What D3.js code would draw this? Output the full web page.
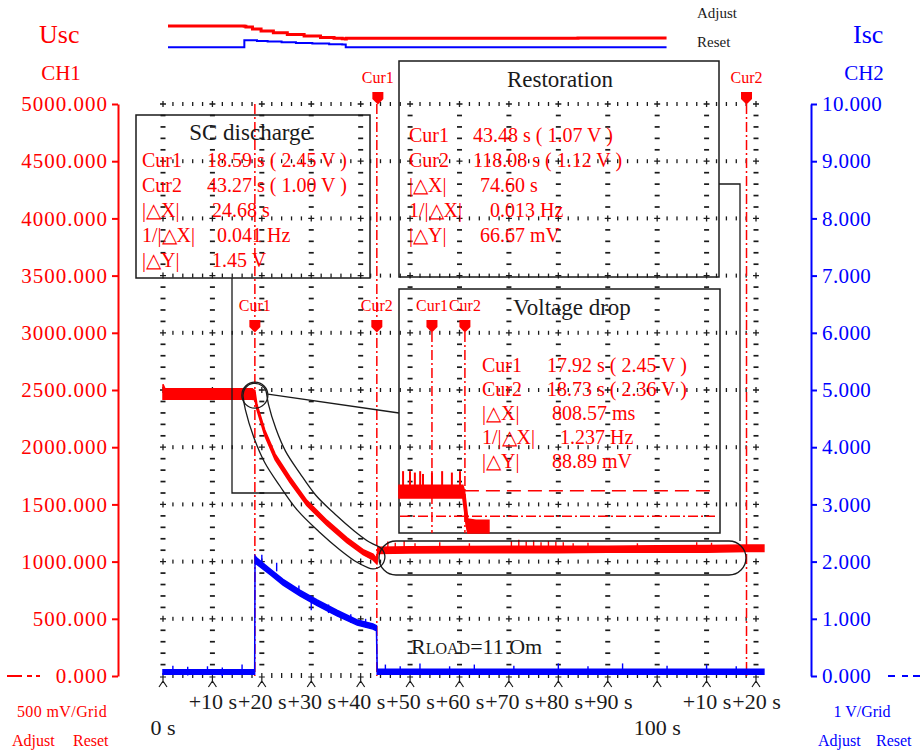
<!DOCTYPE html>
<html>
<head>
<meta charset="utf-8">
<script src="https://cdn.jsdelivr.net/npm/d3@7"></script>
<style>
  body { margin: 0; background: #fff; }
  svg { display: block; }
  text { font-family: "Liberation Serif", "Times New Roman", serif; }
</style>
</head>
<body>
<svg id="scope" width="922" height="750"></svg>
<script>
// ---- CH1: supercapacitor voltage Usc (mV), lower / upper edge of the noisy trace
const uscTime = [0, 0.4, 2, 6, 10, 14, 18.0, 18.59, 19.0, 20.6, 22.7, 25.7, 29.1, 33.2, 37.2, 40.5, 42.5, 43.27, 43.48, 50, 60, 70, 80, 90, 100, 110, 118.08, 121.6];
const uscLow  = [2420, 2420, 2420, 2420, 2420, 2420, 2420, 2415, 2330, 2100, 1890, 1690, 1490, 1315, 1165, 1060, 1015, 980, 1070, 1075, 1078, 1078, 1078, 1082, 1082, 1082, 1088, 1088];
const uscHigh = [2550, 2510, 2510, 2510, 2510, 2510, 2510, 2495, 2375, 2150, 1940, 1740, 1535, 1360, 1210, 1105, 1065, 1025, 1125, 1130, 1132, 1135, 1135, 1135, 1138, 1140, 1145, 1145];
const uscSpikeTime  = [45.5, 47, 48.8, 51, 56, 62, 70.5, 72, 73.5, 75, 76.5, 78, 79.5, 81, 83, 86, 96, 108, 111];
const uscSpikeValue = [1175, 1165, 1180, 1160, 1170, 1160, 1180, 1190, 1175, 1185, 1170, 1180, 1175, 1170, 1160, 1165, 1160, 1170, 1165];

// ---- CH2: supercapacitor current Isc, lower / upper edge of the trace
const iscTime = [0, 18.55, 18.62, 19.0, 21.7, 24.3, 27.7, 31.2, 35.2, 39.3, 42.5, 43.2, 43.35, 50, 70, 90, 110, 121.6];
const iscLow  = [0.03, 0.03, 1.97, 1.95, 1.77, 1.59, 1.40, 1.23, 1.05, 0.89, 0.82, 0.79, 0.03, 0.03, 0.03, 0.03, 0.03, 0.03];
const iscHigh = [0.11, 0.11, 2.10, 2.06, 1.87, 1.69, 1.50, 1.33, 1.15, 0.98, 0.91, 0.88, 0.12, 0.12, 0.12, 0.12, 0.12, 0.12];
const iscSpikeTime  = [2, 5, 9, 12, 16, 20, 23, 27.5, 30, 33.5, 38, 41, 45, 48, 52, 58, 63, 71, 80, 86, 93, 102, 110, 116];
const iscSpikeValue = [0.18, 0.16, 0.17, 0.15, 0.2, 2.12, 1.98, 1.58, 1.30, 1.25, 1.08, 1.0, 0.2, 0.17, 0.22, 0.17, 0.2, 0.18, 0.22, 0.17, 0.22, 0.18, 0.2, 0.17];

// ---- Zoomed voltage-drop window (s, V)
const dropTime = [17.11, 17.3, 17.5, 17.7, 17.92, 18.1, 18.3, 18.5, 18.68, 18.72, 18.76, 18.80, 19.0, 19.2, 19.32];
const dropLow  = [2.425, 2.425, 2.425, 2.425, 2.425, 2.425, 2.425, 2.425, 2.425, 2.38, 2.33, 2.30, 2.30, 2.30, 2.30];
const dropHigh = [2.47, 2.47, 2.47, 2.47, 2.47, 2.47, 2.47, 2.47, 2.47, 2.45, 2.40, 2.35, 2.345, 2.345, 2.345];
const dropSpikeTime = [17.21, 17.38, 17.50, 17.63, 17.70, 17.92, 18.17, 18.41, 18.61];
const dropSpikeValue = [2.52, 2.52, 2.515, 2.52, 2.51, 2.515, 2.52, 2.515, 2.52];

// ---- Axis ticks
const timeMajor = [0, 10, 20, 30, 40, 50, 60, 70, 80, 90, 100, 110, 120];
const ch1Major = [0, 500, 1000, 1500, 2000, 2500, 3000, 3500, 4000, 4500, 5000];
const ch2Major = [0, 1, 2, 3, 4, 5, 6, 7, 8, 9, 10];

// ---- Cursor readouts
const scCursors = [18.59, 43.27];
const scRows = [["Cur1", "18.59 s ( 2.45 V )"], ["Cur2", "43.27 s ( 1.00 V )"], ["|△X|", "24.68 s"], ["1/|△X|", "0.041 Hz"], ["|△Y|", "1.45 V"]];
const restCursors = [43.48, 118.08];
const restRows = [["Cur1", "43.48 s ( 1.07 V )"], ["Cur2", "118.08 s ( 1.12 V )"], ["|△X|", "74.60 s"], ["1/|△X|", "0.013 Hz"], ["|△Y|", "66.67 mV"]];
const dropCursors = [17.92, 18.73];
const dropLevels = [2.45, 2.36];
const dropRows = [["Cur1", "17.92 s ( 2.45 V )"], ["Cur2", "18.73 s ( 2.36 V )"], ["|△X|", "808.57 ms"], ["1/|△X|", "1.237 Hz"], ["|△Y|", "88.89 mV"]];

const RED = "#ff0000", BLUE = "#0000ff", INK = "#1a1a1a";
const svg = d3.select("#scope");

const x  = d3.scaleLinear().domain([0, 120]).range([163, 756]);
const yU = d3.scaleLinear().domain([0, 5000]).range([676, 104]);
const yI = d3.scaleLinear().domain([0, 10]).range([676, 104]);

// ---------- graticule ----------
const grid = svg.append("g");
const minorT = d3.range(0, 120.001, 2).filter(t => t % 10 !== 0);
const minorU = d3.range(0, 5000, 100).filter(v => v % 500 !== 0);
ch1Major.filter(v => v > 0).forEach(v => {
  const gy = yU(v);
  grid.selectAll(null).data(minorT).join("rect")
    .attr("x", t => x(t) - 0.6).attr("y", gy - 2).attr("width", 1.3).attr("height", 4).attr("fill", INK);
  grid.selectAll(null).data(timeMajor).join("path")
    .attr("d", t => `M${x(t) - 3},${gy}H${x(t) + 3}M${x(t)},${gy - 3}V${gy + 3}`)
    .attr("stroke", INK).attr("stroke-width", 1.3);
});
timeMajor.forEach(t => {
  grid.selectAll(null).data(minorU).join("rect")
    .attr("x", x(t) - 2.5).attr("y", v => yU(v) - 0.8).attr("width", 5).attr("height", 1.7).attr("fill", INK);
});

// bottom time axis: arrow-like major marks and small minor ticks
const tAxis = svg.append("g");
tAxis.selectAll(null).data(minorT).join("rect")
  .attr("x", t => x(t) - 0.6).attr("y", 673).attr("width", 1.3).attr("height", 5).attr("fill", INK);
tAxis.selectAll(null).data(timeMajor).join("path")
  .attr("d", t => { const cx = x(t); return `M${cx},673V683M${cx - 3},677H${cx + 3}M${cx},681L${cx - 4},687M${cx},681L${cx + 4},687`; })
  .attr("stroke", INK).attr("stroke-width", 1.2).attr("fill", "none");

const bottomAxis = d3.axisBottom(x).tickValues(timeMajor).tickSize(0).tickPadding(17)
  .tickFormat(t => (t === 0 || t === 100) ? "" : `+${t % 100} s`);
const bAx = svg.append("g").attr("transform", "translate(0,676)").call(bottomAxis);
bAx.select(".domain").remove();
bAx.selectAll("text").attr("font-size", 22).attr("fill", INK).style("font-family", "Liberation Serif");
svg.selectAll(null).data([0, 100]).join("text")
  .attr("x", t => x(t)).attr("y", 735).attr("text-anchor", "middle").attr("font-size", 22).attr("fill", INK)
  .text(t => `${t} s`);

// ---------- left axis CH1 ----------
const leftAx = svg.append("g").attr("transform", "translate(118,0)");
leftAx.call(d3.axisLeft(yU).tickValues(d3.range(0, 5001, 100)).tickSize(3).tickSizeOuter(0).tickFormat(""));
leftAx.call(d3.axisLeft(yU).tickValues(ch1Major).tickSize(6).tickSizeOuter(0).tickPadding(4).tickFormat(d3.format(".3f")));
leftAx.selectAll("path, line").attr("stroke", RED).attr("stroke-width", 2);
leftAx.selectAll("text").attr("fill", RED).attr("font-size", 21).attr("letter-spacing", 1.0).style("font-family", "Liberation Serif");

// ---------- right axis CH2 ----------
const rightAx = svg.append("g").attr("transform", "translate(811,0)");
rightAx.call(d3.axisRight(yI).tickValues(d3.range(0, 10.001, 0.2)).tickSize(3).tickSizeOuter(0).tickFormat(""));
rightAx.call(d3.axisRight(yI).tickValues(ch2Major).tickSize(6).tickSizeOuter(0).tickPadding(5).tickFormat(d3.format(".3f")));
rightAx.selectAll("path, line").attr("stroke", BLUE).attr("stroke-width", 2);
rightAx.selectAll("text").attr("fill", BLUE).attr("font-size", 21).attr("letter-spacing", 0.4).style("font-family", "Liberation Serif");

// channel legends at the zero line
svg.append("path").attr("d", "M7,676H22M27,676H32M36,676H40").attr("stroke", RED).attr("stroke-width", 2);
svg.append("path").attr("d", "M888,676H895M902,676H908M913,676H920").attr("stroke", BLUE).attr("stroke-width", 2);

// headers and scale captions
function label(txt, px, py, size, color, anchor = "start") {
  return svg.append("text").attr("x", px).attr("y", py).attr("font-size", size).attr("fill", color)
    .attr("text-anchor", anchor).text(txt);
}
label("Usc", 39, 43, 26, RED);
label("CH1", 61, 80, 21, RED, "middle");
label("Isc", 853, 43, 26, BLUE);
label("CH2", 864, 80, 21, BLUE, "middle");
label("500 mV/Grid", 62, 717, 16, RED, "middle").attr("letter-spacing", 0.4);
label("Adjust", 12, 746, 16, RED);
label("Reset", 73, 746, 16, RED);
label("1 V/Grid", 862, 717, 16, BLUE, "middle");
label("Adjust", 818, 746, 16, BLUE);
label("Reset", 876, 746, 16, BLUE);
label("Adjust", 697, 18, 15, INK);
label("Reset", 697, 47, 15, INK);

// ---------- overview strip ----------
const xMini = d3.scaleLinear().domain([0, 120]).range([168, 660]);
const yMiniU = d3.scaleLinear().domain([0, 5000]).range([48, 3.5]);
const yMiniI = d3.scaleLinear().domain([0, 10]).range([47.5, 11.5]);
const uscMid = uscTime.map((t, i) => [t, (uscLow[i] + uscHigh[i]) / 2]);
const iscMid = iscTime.map((t, i) => [t, (iscLow[i] + iscHigh[i]) / 2]);
svg.append("path").attr("d", d3.line().x(d => xMini(d[0])).y(d => yMiniU(d[1])).curve(d3.curveStepAfter)(uscMid))
  .attr("fill", "none").attr("stroke", RED).attr("stroke-width", 3);
svg.append("path").attr("d", d3.line().x(d => xMini(d[0])).y(d => yMiniI(d[1])).curve(d3.curveStepAfter)(iscMid))
  .attr("fill", "none").attr("stroke", BLUE).attr("stroke-width", 2);

// ---------- cursors ----------
const cursorDash = "10,3,2,3";
function cursorLine(px, y0, y1) {
  svg.append("line").attr("x1", px).attr("x2", px).attr("y1", y0).attr("y2", y1)
    .attr("stroke", RED).attr("stroke-width", 1.5).attr("stroke-dasharray", cursorDash);
}
function cursorFlag(px, top, name) {
  svg.append("path").attr("d", `M${px - 5.5},${top}h11v7l-5.5,5.5l-5.5,-5.5z`).attr("fill", RED);
  svg.append("text").attr("x", px).attr("y", top - 9).attr("text-anchor", "middle")
    .attr("font-size", 16).attr("fill", RED).text(name);
}
cursorLine(x(scCursors[0]), 104, 676);
cursorLine(x(scCursors[1]), 104, 676);
cursorLine(x(restCursors[1]), 104, 676);
cursorFlag(x(restCursors[0]), 92, "Cur1");
cursorFlag(x(restCursors[1]), 92, "Cur2");
cursorFlag(x(scCursors[0]), 320, "Cur1");
cursorFlag(x(scCursors[1]), 320, "Cur2");

// ---------- traces ----------
const uscRows = uscTime.map((t, i) => ({ t, lo: uscLow[i], hi: uscHigh[i] }));
const iscRows = iscTime.map((t, i) => ({ t, lo: iscLow[i], hi: iscHigh[i] }));
svg.append("path")
  .attr("d", d3.area().x(d => x(d.t)).y0(d => yI(d.lo)).y1(d => yI(d.hi))(iscRows))
  .attr("fill", BLUE).attr("stroke", BLUE).attr("stroke-width", 1.5);
svg.selectAll(null).data(iscSpikeTime).join("line")
  .attr("x1", t => x(t)).attr("x2", t => x(t))
  .attr("y1", (t, i) => yI(iscSpikeValue[i])).attr("y2", (t, i) => yI(iscSpikeValue[i] - 0.15))
  .attr("stroke", BLUE).attr("stroke-width", 1.4);

svg.append("path")
  .attr("d", d3.area().x(d => x(d.t)).y0(d => yU(d.lo)).y1(d => yU(d.hi))(uscRows))
  .attr("fill", RED).attr("stroke", RED).attr("stroke-width", 1.5);
svg.selectAll(null).data(uscSpikeTime).join("line")
  .attr("x1", t => x(t)).attr("x2", t => x(t))
  .attr("y1", (t, i) => yU(uscSpikeValue[i])).attr("y2", (t, i) => yU(uscSpikeValue[i] - 80))
  .attr("stroke", RED).attr("stroke-width", 1.4);

// ---------- highlight outlines around the discharge and restoration parts ----------
const dischargePath = uscRows.filter(d => d.t >= 18.59 && d.t <= 42.5)
  .map(d => [x(d.t), yU((d.lo + d.hi) / 2)]);
const capsuleD = d3.line().curve(d3.curveCatmullRom)(dischargePath);
const defs = svg.append("defs");
const mask = defs.append("mask").attr("id", "capsuleMask").attr("maskUnits", "userSpaceOnUse")
  .attr("x", 0).attr("y", 0).attr("width", 922).attr("height", 750);
mask.append("path").attr("d", capsuleD).attr("fill", "none").attr("stroke", "#fff")
  .attr("stroke-width", 25).attr("stroke-linecap", "round").attr("stroke-linejoin", "round");
mask.append("path").attr("d", capsuleD).attr("fill", "none").attr("stroke", "#000")
  .attr("stroke-width", 22.4).attr("stroke-linecap", "round").attr("stroke-linejoin", "round");
svg.append("rect").attr("width", 922).attr("height", 750).attr("fill", INK).attr("mask", "url(#capsuleMask)");

const outline = svg.append("g").attr("fill", "none").attr("stroke", INK).attr("stroke-width", 1.3);
outline.append("circle").attr("cx", dischargePath[0][0]).attr("cy", dischargePath[0][1]).attr("r", 13);
outline.append("rect").attr("x", 379).attr("y", 541).attr("width", 367).attr("height", 34).attr("rx", 17);
outline.append("path").attr("d", `M232,278V493H290`);
outline.append("path").attr("d", `M${dischargePath[0][0] + 13},${dischargePath[0][1] - 1}L399,413`);
outline.append("path").attr("d", `M719,184H740V541`);

// ---------- readout boxes ----------
function readout(box, title, titleX, titleY, rows, labelX, valueX, rowY0, rowStep) {
  svg.append("rect").attr("x", box[0]).attr("y", box[1]).attr("width", box[2]).attr("height", box[3])
    .attr("fill", "none").attr("stroke", INK).attr("stroke-width", 1.5);
  svg.append("text").attr("x", titleX).attr("y", titleY).attr("text-anchor", "middle")
    .attr("font-size", 23).attr("fill", INK).text(title);
  rows.forEach((r, i) => {
    const ry = rowY0 + i * rowStep;
    svg.append("text").attr("x", labelX).attr("y", ry).attr("font-size", 20).attr("fill", RED).text(r[0]);
    svg.append("text").attr("x", valueX[i]).attr("y", ry).attr("font-size", 20).attr("fill", RED)
      .attr("xml:space", "preserve").text(r[1]);
  });
}
readout([136, 115, 234, 163], "SC discharge", 250, 140, scRows, 142, [207, 207, 212, 217, 212], 167, 25);
readout([399, 61, 320, 216], "Restoration", 560, 87, restRows, 409, [473, 473, 480, 490, 480], 142, 25);
readout([399, 289, 321, 244], "Voltage drop", 572, 315, dropRows, 482, [547, 547, 552, 560, 552], 372, 24);

// zoomed voltage-drop window
const xIn = d3.scaleLinear().domain([17.11, 25.0]).range([399, 720]);
const yIn = d3.scaleLinear().domain([2.30, 3.168]).range([533, 289]);
dropCursors.forEach((t, i) => {
  svg.append("line").attr("x1", xIn(t)).attr("x2", xIn(t)).attr("y1", 332).attr("y2", 533)
    .attr("stroke", RED).attr("stroke-width", 1.5).attr("stroke-dasharray", cursorDash);
  cursorFlag(xIn(t), 320, `Cur${i + 1}`);
});
svg.append("line").attr("x1", xIn(dropCursors[1])).attr("x2", 715)
  .attr("y1", yIn(dropLevels[0])).attr("y2", yIn(dropLevels[0]))
  .attr("stroke", RED).attr("stroke-width", 1.5).attr("stroke-dasharray", "14,7");
svg.append("line").attr("x1", 400).attr("x2", 715)
  .attr("y1", yIn(dropLevels[1])).attr("y2", yIn(dropLevels[1]))
  .attr("stroke", RED).attr("stroke-width", 1.5).attr("stroke-dasharray", cursorDash);
const dropRowsData = dropTime.map((t, i) => ({ t, lo: dropLow[i], hi: dropHigh[i] }));
svg.append("path")
  .attr("d", d3.area().x(d => xIn(d.t)).y0(d => yIn(d.lo)).y1(d => yIn(d.hi))(dropRowsData))
  .attr("fill", RED).attr("stroke", RED).attr("stroke-width", 1.6);
svg.selectAll(null).data(dropSpikeTime).join("line")
  .attr("x1", t => xIn(t)).attr("x2", t => xIn(t))
  .attr("y1", (t, i) => yIn(dropSpikeValue[i])).attr("y2", yIn(2.46))
  .attr("stroke", RED).attr("stroke-width", 2);

// load annotation
const rl = svg.append("text").attr("x", 411).attr("y", 654).attr("fill", INK).attr("font-size", 22);
rl.append("tspan").text("R");
rl.append("tspan").attr("font-size", 16).text("LOAD");
rl.append("tspan").text("=11 Om");
</script>
</body>
</html>
